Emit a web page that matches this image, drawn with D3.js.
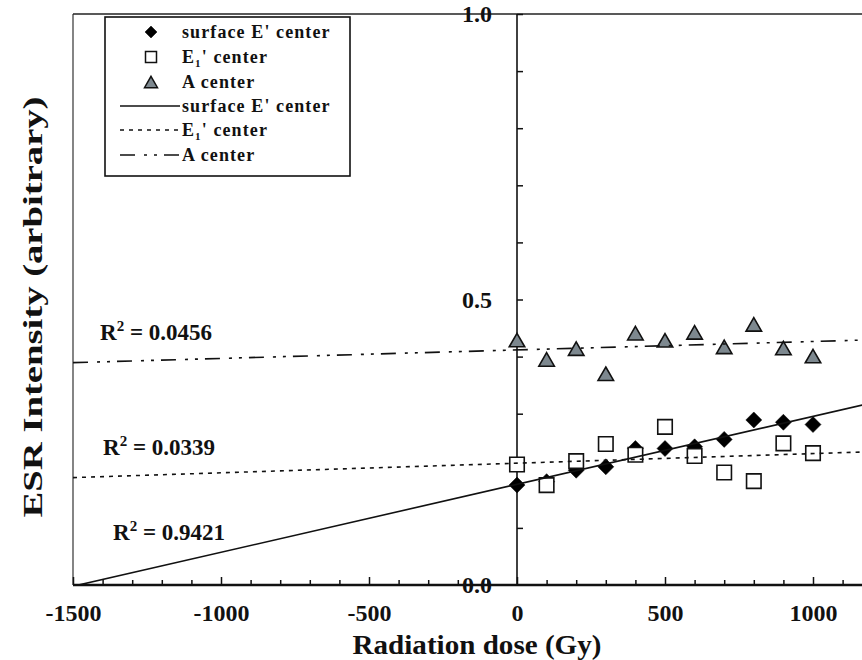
<!DOCTYPE html>
<html>
<head>
<meta charset="utf-8">
<script src="https://cdn.jsdelivr.net/npm/d3@7"></script>
<style>
  html, body { margin: 0; padding: 0; background: #fff; }
  svg { display: block; font-family: "Liberation Serif", "Times New Roman", serif; font-weight: bold; }
</style>
</head>
<body>
<svg id="chart" width="862" height="660"></svg>
<script>
// ---- data ----
const doses = [0, 100, 200, 300, 400, 500, 600, 700, 800, 900, 1000];
const surfaceE = [0.175, 0.181, 0.201, 0.207, 0.239, 0.239, 0.242, 0.255, 0.289, 0.285, 0.281];
const e1Center = [0.211, 0.175, 0.217, 0.247, 0.228, 0.277, 0.226, 0.197, 0.182, 0.248, 0.231];
const aCenter = [0.429, 0.395, 0.414, 0.370, 0.441, 0.4285, 0.4425, 0.417, 0.4565, 0.415, 0.401];
const xTickLabels = [-1500, -1000, -500, 0, 500, 1000];
const yTickLabels = [0.0, 0.5, 1.0];
const rSquared = ["0.9421", "0.0339", "0.0456"]; // surface E', E1', A
const legendNames = ["surface E' center", "E1' center", "A center"];

// ---- layout ----
const svg = d3.select("#chart");
const x = d3.scaleLinear().domain([-1500, 1500]).range([73, 961]);
const y = d3.scaleLinear().domain([0, 1]).range([585, 14]);

svg.append("defs").append("clipPath").attr("id", "plotclip")
  .append("rect").attr("x", x(-1500)).attr("y", y(1)).attr("width", x(1500) - x(-1500)).attr("height", y(0) - y(1));

// frame lines
svg.append("line").attr("x1", x(-1500)).attr("x2", x(-1500)).attr("y1", y(1)).attr("y2", y(0))
  .attr("stroke", "#333").attr("stroke-width", 1.2);
svg.append("line").attr("x1", x(-1500)).attr("x2", x(1500)).attr("y1", y(1)).attr("y2", y(1))
  .attr("stroke", "#222").attr("stroke-width", 1.6);

// x axis ticks (pointing up)
const minorX = d3.range(-1500, 1501, 100).filter(v => v % 500 !== 0);
const majorX = d3.range(-1500, 1501, 500);
svg.append("g").attr("transform", `translate(0,${y(0)})`)
  .call(d3.axisTop(x).tickValues(minorX).tickSize(5).tickFormat(""))
  .call(g => g.select(".domain").remove())
  .call(g => g.selectAll("line").attr("stroke", "#111").attr("stroke-width", 1.5));
svg.append("g").attr("transform", `translate(0,${y(0)})`)
  .call(d3.axisTop(x).tickValues(majorX).tickSize(8).tickFormat(""))
  .call(g => g.select(".domain").remove())
  .call(g => g.selectAll("line").attr("stroke", "#111").attr("stroke-width", 1.5));

// y axis (at dose 0), ticks to the right
svg.append("g").attr("transform", `translate(${x(0)},0)`)
  .call(d3.axisRight(y).tickValues(d3.range(1, 11).map(i => i / 10)).tickSize(6).tickFormat(""))
  .call(g => g.select(".domain").remove())
  .call(g => g.selectAll("line").attr("stroke", "#111").attr("stroke-width", 1.5));
svg.append("line").attr("x1", x(0)).attr("x2", x(0)).attr("y1", y(1)).attr("y2", y(0))
  .attr("stroke", "#111").attr("stroke-width", 1.6);

// x axis line
svg.append("line").attr("x1", x(-1500)).attr("x2", x(1500)).attr("y1", y(0)).attr("y2", y(0))
  .attr("stroke", "#111").attr("stroke-width", 2.6);

// x tick labels (plain hyphen minus)
svg.append("g").attr("transform", `translate(0,${y(0)})`)
  .call(d3.axisBottom(x).tickValues(xTickLabels).tickSize(0).tickPadding(0).tickFormat(d => String(d)))
  .call(g => g.select(".domain").remove())
  .call(g => g.selectAll("text").attr("y", 36).attr("dy", null)
    .attr("font-family", "Liberation Serif").attr("font-weight", "bold").attr("font-size", 24).attr("fill", "#111"));

// y tick labels
svg.append("g").attr("transform", `translate(${x(0)},0)`)
  .call(d3.axisLeft(y).tickValues(yTickLabels).tickSize(0).tickPadding(25).tickFormat(d => d.toFixed(1)))
  .call(g => g.select(".domain").remove())
  .call(g => g.selectAll("text").attr("dy", "0.33em")
    .attr("font-family", "Liberation Serif").attr("font-weight", "bold").attr("font-size", 24).attr("fill", "#111"));

// axis titles
svg.append("text").attr("x", 477).attr("y", 654).attr("text-anchor", "middle")
  .attr("font-size", 28).attr("fill", "#111")
  .attr("textLength", 249).attr("lengthAdjust", "spacingAndGlyphs")
  .text("Radiation dose (Gy)");
svg.append("text").attr("transform", "translate(42,307) rotate(-90)").attr("text-anchor", "middle")
  .attr("font-size", 27).attr("fill", "#111")
  .attr("textLength", 421).attr("lengthAdjust", "spacingAndGlyphs")
  .text("ESR Intensity (arbitrary)");

// ---- markers ----
const diamondType = { draw(ctx, size) { const r = Math.sqrt(size) / 2; ctx.moveTo(0, -r); ctx.lineTo(r, 0); ctx.lineTo(0, r); ctx.lineTo(-r, 0); ctx.closePath(); } };
const squareType = { draw(ctx, size) { const r = Math.sqrt(size) / 2; ctx.rect(-r, -r, 2 * r, 2 * r); } };
const triType = { draw(ctx, size) { const w = Math.sqrt(size); const h = w * 0.87; ctx.moveTo(0, -h / 2); ctx.lineTo(w / 2, h / 2); ctx.lineTo(-w / 2, h / 2); ctx.closePath(); } };

const series = [
  { name: "A", values: aCenter, type: triType, size: 15.5 * 15.5, fill: "#7d888f", stroke: "#111", sw: 1.6 },
  { name: "surfaceE", values: surfaceE, type: diamondType, size: 16 * 16, fill: "#000", stroke: "#000", sw: 0.5 },
  { name: "E1", values: e1Center, type: squareType, size: 14.5 * 14.5, fill: "#fff", stroke: "#111", sw: 1.6 }
];
series.forEach(s => {
  svg.append("g").selectAll("path").data(doses.map((d, i) => [d, s.values[i]])).join("path")
    .attr("transform", d => `translate(${x(d[0])},${y(d[1])})`)
    .attr("d", d3.symbol(s.type, s.size)())
    .attr("fill", s.fill).attr("stroke", s.stroke).attr("stroke-width", s.sw);
});

// ---- regression lines ----
function fit(vals) {
  const mx = d3.mean(doses), my = d3.mean(vals);
  const sxy = d3.sum(doses, (d, i) => (d - mx) * (vals[i] - my));
  const sxx = d3.sum(doses, d => (d - mx) * (d - mx));
  const b = sxy / sxx; return { a: my - b * mx, b };
}
const lineStyles = [
  { values: surfaceE, dash: null },
  { values: e1Center, dash: "4,5" },
  { values: aCenter, dash: "15,9,3,7,3,7" }
];
const lineGen = d3.line().x(d => x(d[0])).y(d => y(d[1]));
const gLines = svg.append("g").attr("clip-path", "url(#plotclip)");
lineStyles.forEach(ls => {
  const f = fit(ls.values);
  const pts = [-1500, 1500].map(d => [d, f.a + f.b * d]);
  gLines.append("path").attr("d", lineGen(pts)).attr("fill", "none")
    .attr("stroke", "#111").attr("stroke-width", 1.6)
    .attr("stroke-dasharray", ls.dash);
});

// ---- R² labels ----
const r2Pos = [[113, 540], [103, 455], [100, 340]];
r2Pos.forEach((p, i) => {
  const t = svg.append("text").attr("x", p[0]).attr("y", p[1]).attr("font-size", 23).attr("fill", "#111");
  t.append("tspan").text("R");
  t.append("tspan").attr("font-size", 15).attr("dy", -9).text("2");
  t.append("tspan").attr("dy", 9).text(" = " + rSquared[i]);
});

// ---- legend ----
const lg = svg.append("g");
lg.append("rect").attr("x", 105).attr("y", 17).attr("width", 245).attr("height", 159)
  .attr("fill", "#fff").attr("stroke", "#111").attr("stroke-width", 1.6);
const rows = [32, 57, 82, 106, 130, 155];
const legendSymbols = [
  { type: diamondType, size: 12 * 12, fill: "#000", stroke: "#000", sw: 0.5 },
  { type: squareType, size: 11 * 11, fill: "#fff", stroke: "#111", sw: 1.5 },
  { type: triType, size: 13 * 13, fill: "#7d888f", stroke: "#111", sw: 1.5 }
];
function legendLabel(tx, ty, name) {
  const t = lg.append("text").attr("x", tx).attr("y", ty).attr("font-size", 18)
    .attr("letter-spacing", 1.1).attr("fill", "#111");
  if (name.startsWith("E1")) {
    t.append("tspan").text("E");
    t.append("tspan").attr("font-size", 11).attr("dy", 4).text("1");
    t.append("tspan").attr("dy", -4).text(name.slice(2));
  } else {
    t.text(name);
  }
}
legendSymbols.forEach((s, i) => {
  lg.append("path").attr("transform", `translate(151,${rows[i]})`)
    .attr("d", d3.symbol(s.type, s.size)())
    .attr("fill", s.fill).attr("stroke", s.stroke).attr("stroke-width", s.sw);
  legendLabel(182, rows[i] + 6, legendNames[i]);
});
lineStyles.forEach((ls, i) => {
  lg.append("line").attr("x1", 120).attr("x2", 180).attr("y1", rows[i + 3]).attr("y2", rows[i + 3])
    .attr("stroke", "#111").attr("stroke-width", 1.6).attr("stroke-dasharray", ls.dash);
  legendLabel(182, rows[i + 3] + 6, legendNames[i]);
});
</script>
</body>
</html>
